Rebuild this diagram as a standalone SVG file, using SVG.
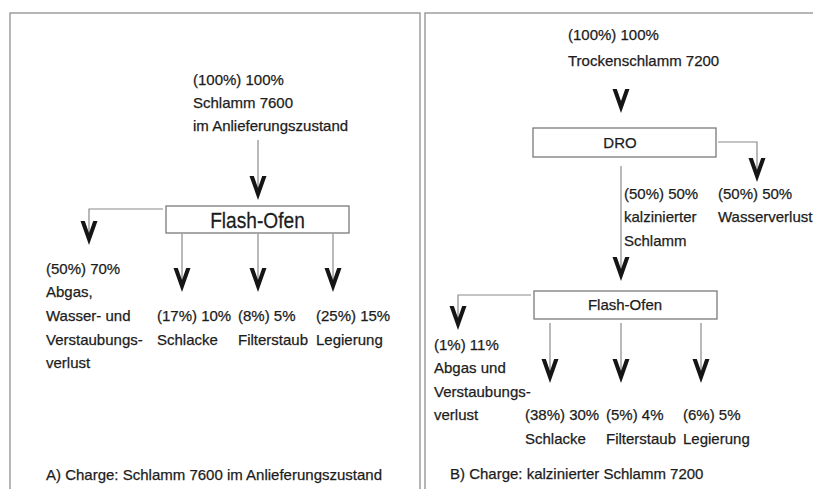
<svg xmlns="http://www.w3.org/2000/svg" xmlns:xlink="http://www.w3.org/1999/xlink" width="813" height="489" viewBox="0 0 813 489">
  <style>
    text { font-family: "Liberation Sans", Arial, sans-serif; font-size: 15px; fill: #1c1c1c; stroke: #1c1c1c; stroke-width: 0.25; }
    .big { font-size: 22px; text-anchor: middle; }
    .mid { text-anchor: middle; }
    .panel { fill: none; stroke: #8f8f8f; stroke-width: 1.3; }
    .box { fill: #fff; stroke: #7a7a7a; stroke-width: 1.3; }
    .wire { fill: none; stroke: #8a8a8a; stroke-width: 1.2; }
    .head { fill: #151515; }
  </style>
  <defs>
    <!-- barbed arrowhead, tip at origin pointing down -->
    <path id="ah" class="head" d="M0,0 L-8.5,-24 L-4.2,-24 L0,-12 L4.2,-24 L8.5,-24 Z"/>
  </defs>

  <rect width="813" height="489" fill="#fff"/>

  <!-- panel frames -->
  <g id="frames">
    <rect class="panel" x="10" y="13" width="410" height="500"/>
    <rect class="panel" x="425" y="13" width="400" height="500"/>
  </g>

  <!-- connectors -->
  <g id="connectors">
    <!-- panel A -->
    <path class="wire" d="M258,140 V194"/>
    <use xlink:href="#ah" x="258" y="200"/>
    <path class="wire" d="M163,209 H89 V238"/>
    <use xlink:href="#ah" x="89" y="245"/>
    <path class="wire" d="M182,234 V286"/>
    <use xlink:href="#ah" x="182" y="292"/>
    <path class="wire" d="M258,234 V286"/>
    <use xlink:href="#ah" x="258" y="292"/>
    <path class="wire" d="M333,234 V286"/>
    <use xlink:href="#ah" x="333" y="292"/>
    <!-- panel B -->
    <use xlink:href="#ah" x="621" y="113"/>
    <path class="wire" d="M718,142 H757 V176"/>
    <use xlink:href="#ah" x="757" y="182"/>
    <path class="wire" d="M621,166 V275"/>
    <use xlink:href="#ah" x="621" y="281"/>
    <path class="wire" d="M531,295 H458 V324"/>
    <use xlink:href="#ah" x="458" y="330"/>
    <path class="wire" d="M550,323 V377"/>
    <use xlink:href="#ah" x="550" y="383"/>
    <path class="wire" d="M621,323 V377"/>
    <use xlink:href="#ah" x="621" y="383"/>
    <path class="wire" d="M701,323 V377"/>
    <use xlink:href="#ah" x="701" y="383"/>
  </g>

  <!-- panel A nodes -->
  <g id="a-feed">
    <text x="193" y="85">(100%) 100%</text>
    <text x="193" y="108">Schlamm 7600</text>
    <text x="193" y="131">im Anlieferungszustand</text>
  </g>
  <g id="a-flash">
    <rect class="box" x="166" y="206" width="183" height="27"/>
    <text class="big" transform="translate(257.5,228) scale(0.87,1)">Flash-Ofen</text>
  </g>
  <g id="a-abgas">
    <text x="46" y="274">(50%) 70%</text>
    <text x="46" y="297">Abgas,</text>
    <text x="46" y="321">Wasser- und</text>
    <text x="46" y="345">Verstaubungs-</text>
    <text x="46" y="368">verlust</text>
  </g>
  <g id="a-schlacke">
    <text x="157" y="321">(17%) 10%</text>
    <text x="157" y="345">Schlacke</text>
  </g>
  <g id="a-filterstaub">
    <text x="238" y="321">(8%) 5%</text>
    <text x="238" y="345">Filterstaub</text>
  </g>
  <g id="a-legierung">
    <text x="316" y="321">(25%) 15%</text>
    <text x="316" y="345">Legierung</text>
  </g>
  <g id="a-caption">
    <text x="46" y="480">A) Charge: Schlamm 7600 im Anlieferungszustand</text>
  </g>

  <!-- panel B nodes -->
  <g id="b-feed">
    <text x="568" y="40">(100%) 100%</text>
    <text x="568" y="66">Trockenschlamm 7200</text>
  </g>
  <g id="b-dro">
    <rect class="box" x="533" y="128" width="183" height="29"/>
    <text class="mid" x="620" y="148">DRO</text>
  </g>
  <g id="b-kalz">
    <text x="624" y="199">(50%) 50%</text>
    <text x="624" y="222">kalzinierter</text>
    <text x="624" y="246">Schlamm</text>
  </g>
  <g id="b-wasser">
    <text x="718" y="199">(50%) 50%</text>
    <text x="718" y="222">Wasserverlust</text>
  </g>
  <g id="b-flash">
    <rect class="box" x="534" y="291" width="183" height="28"/>
    <text class="mid" x="625" y="310">Flash-Ofen</text>
  </g>
  <g id="b-abgas">
    <text x="434" y="350">(1%) 11%</text>
    <text x="434" y="373">Abgas und</text>
    <text x="434" y="397">Verstaubungs-</text>
    <text x="434" y="420">verlust</text>
  </g>
  <g id="b-schlacke">
    <text x="525" y="420">(38%) 30%</text>
    <text x="525" y="444">Schlacke</text>
  </g>
  <g id="b-filterstaub">
    <text x="606" y="420">(5%) 4%</text>
    <text x="606" y="444">Filterstaub</text>
  </g>
  <g id="b-legierung">
    <text x="683" y="420">(6%) 5%</text>
    <text x="683" y="444">Legierung</text>
  </g>
  <g id="b-caption">
    <text x="450" y="479">B) Charge: kalzinierter Schlamm 7200</text>
  </g>
</svg>
